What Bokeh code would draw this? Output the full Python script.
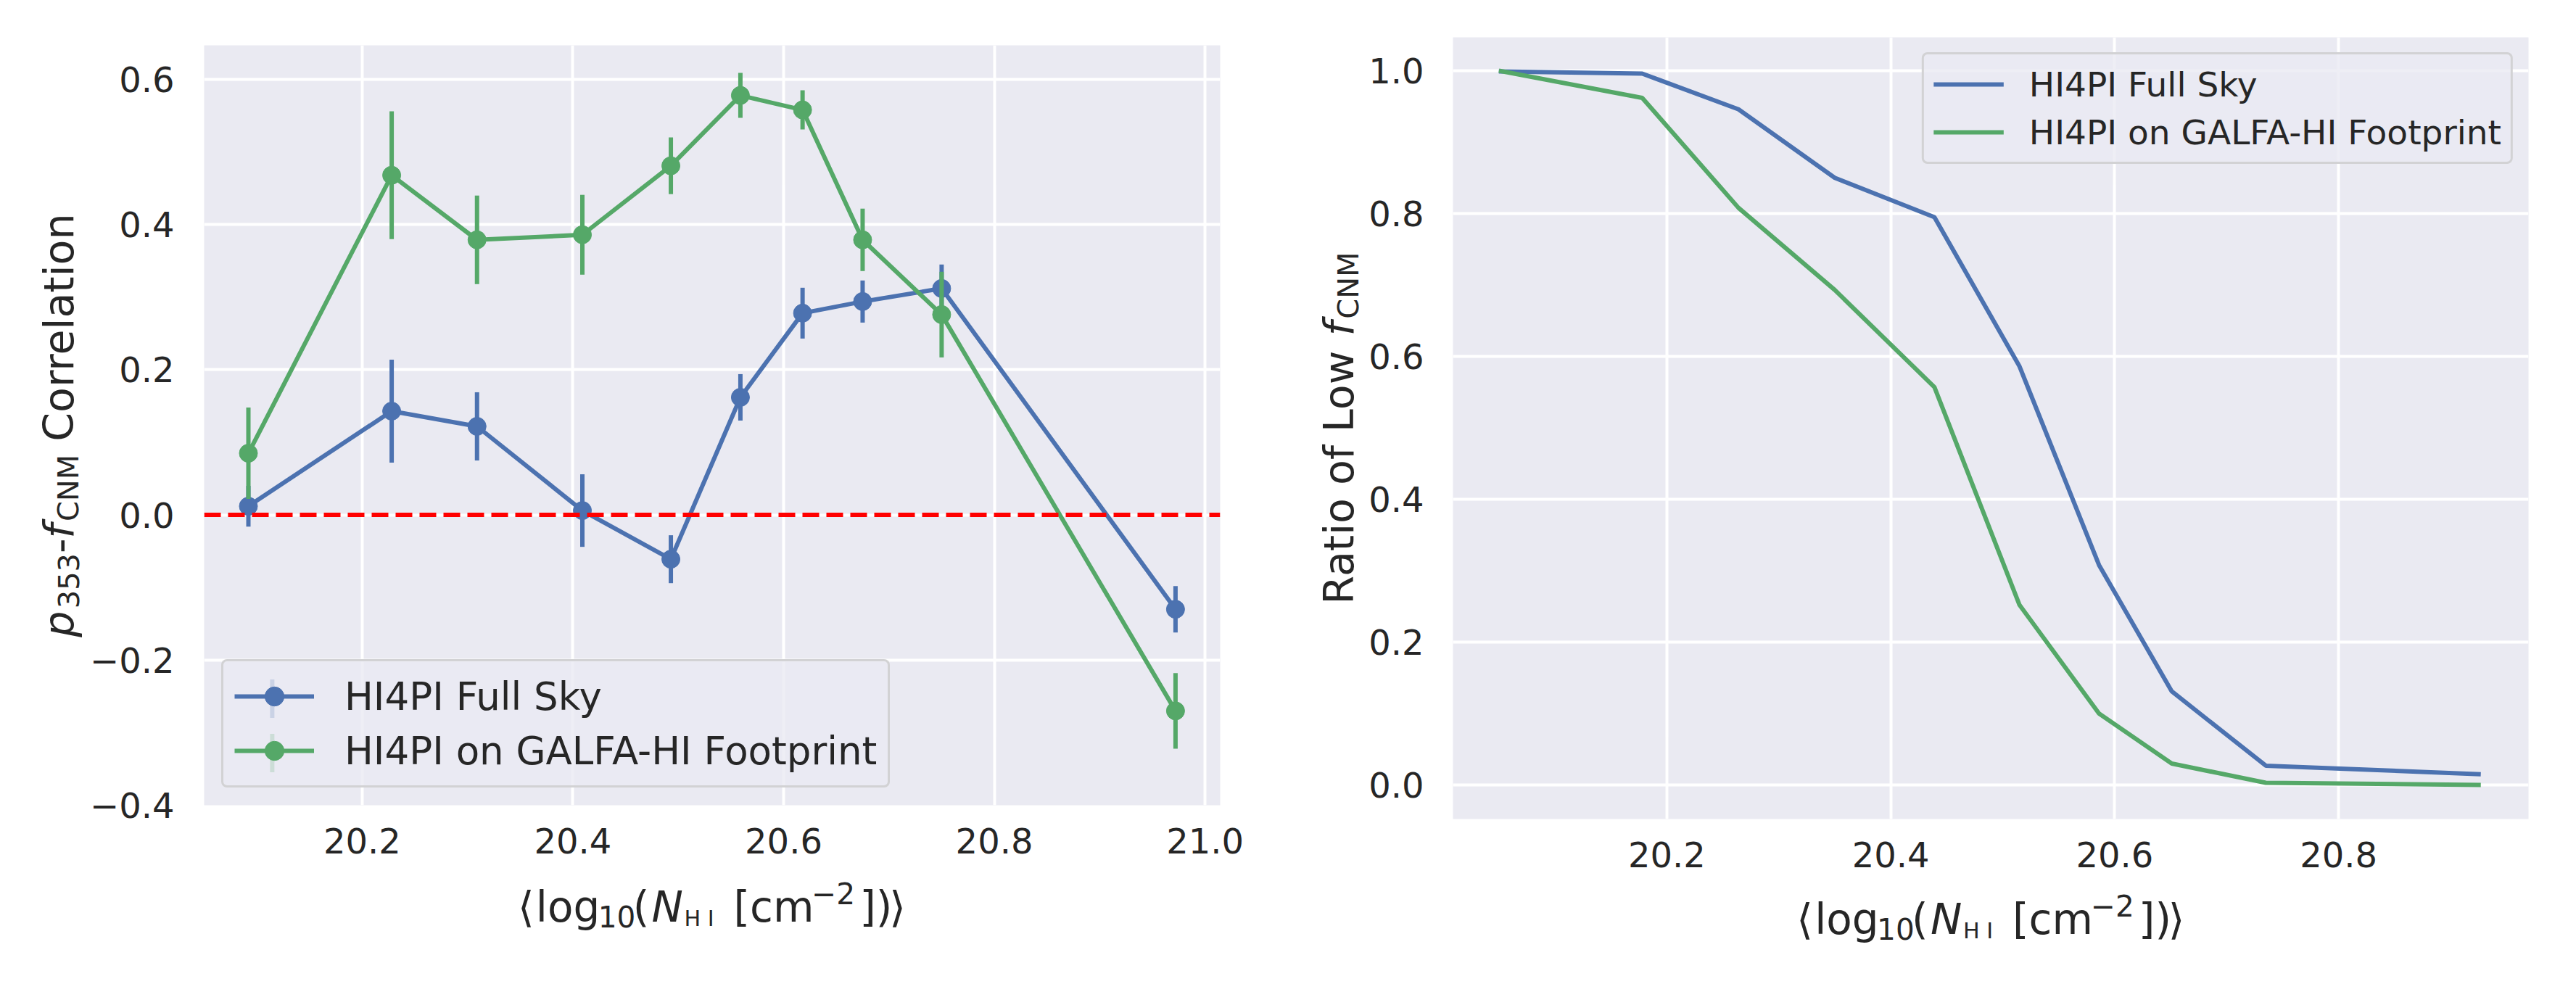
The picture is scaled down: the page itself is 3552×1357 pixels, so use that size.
from bokeh.plotting import figure
from bokeh.layouts import row, column
from bokeh.models import (Range1d, FixedTicker, CustomJSTickFormatter, Legend,
                          LegendItem, Span, BoxAnnotation)
from bokeh.core.properties import value
from bokeh.embed import file_html
from bokeh.resources import INLINE

# ---------------- data ----------------
series_labels = ["HI4PI Full Sky", "HI4PI on GALFA-HI Footprint"]

corr_nhi = [20.092, 20.228, 20.309, 20.409, 20.493, 20.559, 20.618, 20.675, 20.750, 20.972]
corr_full = [0.012, 0.143, 0.122, 0.006, -0.061, 0.162, 0.278, 0.294, 0.312, -0.130]
corr_full_err = [0.028, 0.071, 0.047, 0.050, 0.033, 0.032, 0.035, 0.029, 0.033, 0.032]
corr_galfa = [0.085, 0.468, 0.379, 0.386, 0.481, 0.578, 0.558, 0.379, 0.276, -0.270]
corr_galfa_err = [0.063, 0.088, 0.061, 0.055, 0.039, 0.031, 0.027, 0.043, 0.059, 0.052]

ratio_nhi = [20.050, 20.178, 20.264, 20.350, 20.439, 20.515, 20.586, 20.651, 20.735, 20.927]
ratio_full = [0.999, 0.996, 0.946, 0.850, 0.795, 0.586, 0.308, 0.131, 0.027, 0.015]
ratio_galfa = [1.000, 0.962, 0.808, 0.693, 0.557, 0.252, 0.100, 0.030, 0.003, 0.000]

left_xticks = [20.2, 20.4, 20.6, 20.8, 21.0]
left_yticks = [-0.4, -0.2, 0.0, 0.2, 0.4, 0.6]
right_xticks = [20.2, 20.4, 20.6, 20.8]
right_yticks = [0.0, 0.2, 0.4, 0.6, 0.8, 1.0]

# axis-label texts: (text, kind)
left_ylabel = [("p", "i"), ("353", "sub"), ("-", "n"), ("f", "i"),
               ("CNM", "sub"), (" Correlation", "n")]
right_ylabel = [("Ratio of Low ", "n"), ("f", "i"), ("CNM", "sub")]
xlabel = [("\u27e8", "n"), ("log", "n"), ("10", "sub"), ("(", "n"), ("N", "i"),
          ("H I", "sub2"), ("[cm", "n"), ("\u22122", "sup"), ("])", "n"), ("\u27e9", "n")]
# horizontal pen offsets (px from the label centre) of the x-label pieces
xlabel_offsets = [-268, -243, -157, -109, -83, -38, 30, 138, 204, 245]

# ---------------- style ----------------
BLUE = "#4C72B0"
GREEN = "#55A868"
BG = "#EAEAF2"
TXT = "#262626"
FONT = "DejaVu Sans"
TICK_PX = "48px"
YLABEL_PX = 57
XLABEL_PX = 58
SCALE = {"n": 1.0, "i": 1.0, "sub": 0.7, "sup": 0.7, "sub2": 0.52}
RAISE = {"sub": -0.155, "sub2": -0.155, "sup": 0.40}
BASE_FIX = 0.25   # bokeh draws 'alphabetic' text this many em below the anchor

# frames: (x0, x1, width_px), (y0, y1, height_px)
F1 = ((20.050, 21.0144, 1403), (-0.4, 0.647, 1048))
F2 = ((20.009, 20.9696, 1484), (-0.0477, 1.0467, 1078))

# DejaVu Sans advance widths (em)
EM = {" ": 0.318, "(": 0.390, ")": 0.390, "[": 0.390, "]": 0.390, "-": 0.361,
      "\u2212": 0.838, "\u27e8": 0.390, "\u27e9": 0.390,
      "0": 0.636, "1": 0.636, "2": 0.636, "3": 0.636, "5": 0.636,
      "C": 0.698, "N": 0.748, "M": 0.863, "H": 0.752, "I": 0.295, "L": 0.557,
      "R": 0.695, "a": 0.613, "c": 0.550, "e": 0.615, "f": 0.352, "g": 0.635,
      "i": 0.278, "l": 0.278, "m": 0.974, "n": 0.634, "o": 0.612, "p": 0.635,
      "r": 0.411, "t": 0.392, "w": 0.818}


def text_w(s, px):
    return sum(EM.get(ch, 0.6) for ch in s) * px


def to_data(frame, fx, fy):
    (x0, x1, W), (y0, y1, H) = frame
    return x0 + fx * (x1 - x0) / W, y0 + fy * (y1 - y0) / H


def helper(width, height, xspan=None):
    # in a column the helper's frame is aligned to the plot frame above it,
    # so its x range is given in pixels of that frame
    h = figure(width=width, height=height, output_backend="svg", toolbar_location=None,
               x_range=Range1d(0, xspan if xspan else width), y_range=Range1d(0, height),
               min_border=0, x_axis_type=None, y_axis_type=None)
    h.outline_line_color = None
    h.background_fill_color = "white"
    h.border_fill_color = "white"
    return h


def draw_piece(h, txt, kind, size, x, y, vertical):
    fs = size * SCALE[kind]
    h.text(x=[x], y=[y], text=[txt], angle=1.5707963267948966 if vertical else 0.0,
           text_font=value(FONT), text_font_size=value(f"{fs:.1f}px"),
           text_font_style=value("italic" if kind == "i" else "normal"),
           text_color=TXT, text_align="left", text_baseline="alphabetic")


def add_ylabel(h, pieces, size, base_x, cy):
    """Vertical label (reads upward); base_x = wanted baseline, cy = centre."""
    sizes = [size * SCALE[k] for _, k in pieces]
    widths = [text_w(t, fs) + (0.06 * size if k == "i" else 0.0)
              for (t, k), fs in zip(pieces, sizes)]
    pos = -sum(widths) / 2.0
    for (t, k), fs, w in zip(pieces, sizes, widths):
        lead = len(t) - len(t.lstrip(" "))
        off = text_w(" " * lead, fs)
        x = base_x - RAISE.get(k, 0.0) * size - BASE_FIX * fs
        draw_piece(h, t.strip(" "), k, size, x, cy + pos + off, True)
        pos += w


def add_xlabel(h, pieces, offsets, size, cx, base_y):
    for (t, k), dx in zip(pieces, offsets):
        fs = size * SCALE[k]
        y = base_y + RAISE.get(k, 0.0) * size + BASE_FIX * fs
        draw_piece(h, t, k, size, cx + dx, y, False)


fmt_code = "return tick.toFixed(1).replace('-', '\u2212');"


def style(p, xticks, yticks, ystandoff):
    p.background_fill_color = BG
    p.border_fill_color = "white"
    p.outline_line_color = None
    p.xaxis.ticker = FixedTicker(ticks=xticks)
    p.yaxis.ticker = FixedTicker(ticks=yticks)
    for ax in (p.xaxis[0], p.yaxis[0]):
        ax.formatter = CustomJSTickFormatter(code=fmt_code)
        ax.axis_line_color = None
        ax.major_tick_line_color = None
        ax.minor_tick_line_color = None
        ax.major_tick_out = 0
        ax.minor_tick_out = 0
        ax.major_label_text_font = FONT
        ax.major_label_text_font_size = TICK_PX
        ax.major_label_text_color = TXT
    p.xaxis.major_label_standoff = 31
    p.yaxis.major_label_standoff = ystandoff
    for g in (p.xgrid[0], p.ygrid[0]):
        g.grid_line_color = "white"
        g.grid_line_width = 4
        g.minor_grid_line_color = None


def style_legend(lg, font_px, gw, gh, pad, spacing, standoff, margin):
    lg.label_text_font = FONT
    lg.label_text_font_size = f"{font_px}px"
    lg.label_text_color = TXT
    lg.glyph_width = gw
    lg.glyph_height = gh
    lg.padding = pad
    lg.spacing = spacing
    lg.label_standoff = standoff
    lg.margin = margin
    lg.background_fill_color = BG
    lg.background_fill_alpha = 0.8
    lg.border_line_color = "#CCCCCC"
    lg.border_line_width = 3
    lg.border_line_alpha = 0.8
    if "border_radius" in Legend.properties():
        lg.border_radius = 8


# ---------------- left panel ----------------
p1 = figure(width=1670, height=1198, output_backend="svg", toolbar_location=None,
            x_range=Range1d(F1[0][0], F1[0][1]), y_range=Range1d(F1[1][0], F1[1][1]),
            min_border_left=159, min_border_right=108, min_border_top=62,
            min_border_bottom=88)
style(p1, left_xticks, left_yticks, 41)

LG1 = dict(font_px=53, gw=110, gh=66, pad=15, spacing=9, standoff=42, margin=24)
items1 = []
bar_cols = []
for ys, es, col, lab in ((corr_full, corr_full_err, BLUE, series_labels[0]),
                         (corr_galfa, corr_galfa_err, GREEN, series_labels[1])):
    lo = [y - e for y, e in zip(ys, es)]
    hi = [y + e for y, e in zip(ys, es)]
    r_line = p1.line(corr_nhi, ys, line_color=col, line_width=6)
    p1.segment(x0=corr_nhi, y0=lo, x1=corr_nhi, y1=hi, line_color=col, line_width=6)
    r_pt = p1.scatter(corr_nhi, ys, size=25, fill_color=col, line_color=col)
    items1.append(LegendItem(label=lab, renderers=[r_line, r_pt]))
    bar_cols.append(col)

p1.add_layout(Span(location=0, dimension="width", line_color="red",
                   line_dash="23 10", line_width=6))

lg1 = Legend(items=items1, location="bottom_left")
style_legend(lg1, LG1["font_px"], LG1["gw"], LG1["gh"], LG1["pad"], LG1["spacing"],
             LG1["standoff"], LG1["margin"])
p1.add_layout(lg1)

# vertical error-bar strokes of the legend entries (legend layout decoration)
n_items = len(items1)
leg_h = 2 * LG1["pad"] + n_items * LG1["gh"] + (n_items - 1) * LG1["spacing"]
leg_top = LG1["margin"] + leg_h
gx = LG1["margin"] + LG1["pad"] + LG1["gw"] / 2.0
half = 0.4 * LG1["gh"]
for i, col in enumerate(bar_cols):
    gy = leg_top - LG1["pad"] - LG1["gh"] / 2.0 - i * (LG1["gh"] + LG1["spacing"])
    l, b = to_data(F1, gx - 3, gy - half)
    r, t = to_data(F1, gx + 3, gy + half)
    p1.add_layout(BoxAnnotation(left=l, right=r, bottom=b, top=t, fill_color=col,
                                fill_alpha=1.0, line_color=None, level="overlay"))

# ---------------- right panel ----------------
p2 = figure(width=1652, height=1217, output_backend="svg", toolbar_location=None,
            x_range=Range1d(F2[0][0], F2[0][1]), y_range=Range1d(F2[1][0], F2[1][1]),
            min_border_left=118, min_border_right=50, min_border_top=51,
            min_border_bottom=88)
style(p2, right_xticks, right_yticks, 40)

items2 = []
for ys, col, lab in ((ratio_full, BLUE, series_labels[0]),
                     (ratio_galfa, GREEN, series_labels[1])):
    r = p2.line(ratio_nhi, ys, line_color=col, line_width=6)
    items2.append(LegendItem(label=lab, renderers=[r]))

lg2 = Legend(items=items2, location="top_right")
style_legend(lg2, 47, 97, 56, 13, 10, 35, 21)
p2.add_layout(lg2)

# ---------------- axis-label canvases ----------------
yl1 = helper(120, 1341)
add_ylabel(yl1, left_ylabel, YLABEL_PX, 95, 756)
xl1 = helper(1670, 143, xspan=F1[0][2])
add_xlabel(xl1, xlabel, xlabel_offsets, XLABEL_PX, F1[0][2] / 2.0 - 0.5, 76)
yl2 = helper(94, 1341)
add_ylabel(yl2, right_ylabel, YLABEL_PX, 70, 751)
xl2 = helper(1652, 124, xspan=F2[0][2])
add_xlabel(xl2, xlabel, xlabel_offsets, XLABEL_PX, F2[0][2] / 2.0, 59)

layout = row(yl1, column(p1, xl1), yl2, column(p2, xl2))
open("out.html", "w").write(file_html(layout, INLINE))
